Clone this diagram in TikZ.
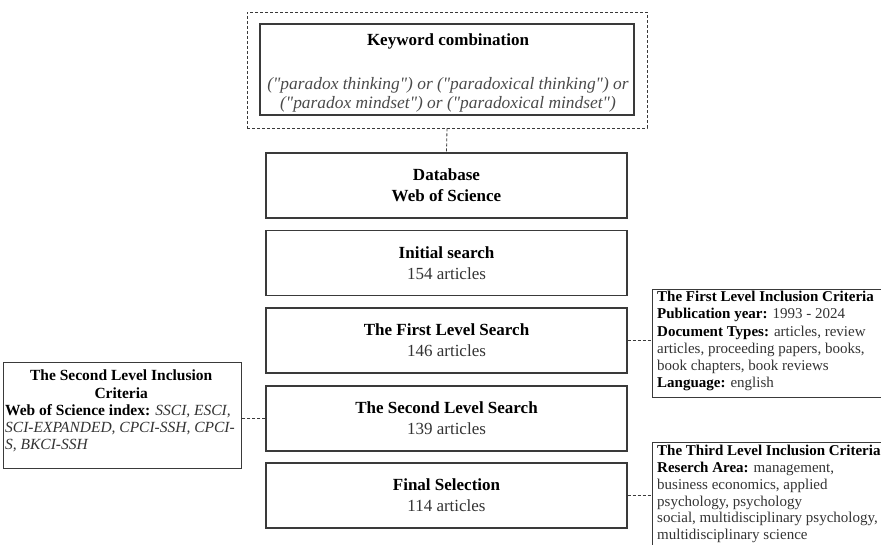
\documentclass[tikz,border=0pt]{standalone}
\usepackage{fontspec}
\setmainfont{Liberation Serif}
\definecolor{boxline}{HTML}{3A3A3A}
\definecolor{plaintxt}{HTML}{333333}
\definecolor{itxt}{HTML}{4A4A4A}
\newcommand{\sdq}{\XeTeXglyph\XeTeXcharglyph"22\relax}
\begin{document}
\begin{tikzpicture}[x=1pt,y=-1pt,
  mainbox/.style={draw=boxline, line width=1.3pt, minimum width=361pt, minimum height=65pt,
    align=center, inner sep=0pt, font=\fontsize{17}{21}\selectfont},
  framebox/.style={draw=boxline, line width=1.1pt, inner sep=0pt, anchor=north west},
  crittext/.style={anchor=north west, inner sep=0pt, align=left, text=plaintxt,
    font=\fontsize{15}{17.2}\selectfont},
  dashedbox/.style={draw=boxline, line width=0.8pt, dash pattern=on 3pt off 2pt, inner sep=0pt},
  link/.style={draw=boxline, line width=0.8pt, dash pattern=on 3pt off 2pt}
]
\useasboundingbox (0,0) rectangle (881,545);

% keyword block
\node[dashedbox, minimum width=400pt, minimum height=116pt] (outer) at (447,70) {};
\node[draw=boxline, line width=1.3pt, minimum width=374pt, minimum height=91pt, inner sep=0pt] (kw) at (447,69.5) {};
\node[align=center, inner sep=0pt, font=\fontsize{17}{19}\selectfont] (kwt) at (448,73)
  {\textbf{Keyword combination}\\[25pt]
   \textcolor{itxt}{\fontsize{17.4}{19}\selectfont\itshape (\sdq paradox thinking\sdq) or (\sdq paradoxical thinking\sdq) or}\\
   \textcolor{itxt}{\fontsize{17.4}{19}\selectfont\itshape (\sdq paradox mindset\sdq) or (\sdq paradoxical mindset\sdq)}};

% main flow
\node[mainbox] (db) at (446.5,185.5) {\textbf{Database}\\\textbf{Web of Science}};
\node[mainbox] (init) at (446.5,263) {\textbf{Initial search}\\\textcolor{plaintxt}{154 articles}};
\node[mainbox] (first) at (446.5,340.5) {\textbf{The First Level Search}\\\textcolor{plaintxt}{146 articles}};
\node[mainbox] (second) at (446.5,418.5) {\textbf{The Second Level Search}\\\textcolor{plaintxt}{139 articles}};
\node[mainbox] (final) at (446.5,495.5) {\textbf{Final Selection}\\\textcolor{plaintxt}{114 articles}};

% criteria boxes
\node[framebox, minimum width=236pt, minimum height=108pt] (c1) at (652,289) {};
\node[crittext] (c1t) at (657,291)
  {\textcolor{black}{\textbf{The First Level Inclusion Criteria}}\\
   \textcolor{black}{\textbf{Publication year:}} 1993 - 2024\\
   \textcolor{black}{\textbf{Document Types:}} articles, review\\
   articles, proceeding papers, books,\\
   book chapters, book reviews\\
   \textcolor{black}{\textbf{Language:}} english};

\node[framebox, minimum width=238pt, minimum height=106pt] (c2) at (3,362) {};
\node[crittext, font=\fontsize{15.5}{17.2}\selectfont] (c2t) at (5,370)
  {\makebox[232pt][c]{\textcolor{black}{\textbf{The Second Level Inclusion}}}\\
   \makebox[232pt][c]{\textcolor{black}{\textbf{Criteria}}}\\
   \textcolor{black}{\textbf{Web of Science index:}} \textit{SSCI, ESCI,}\\
   \textit{SCI-EXPANDED, CPCI-SSH, CPCI-}\\
   \textit{S, BKCI-SSH}};

\node[framebox, minimum width=236pt, minimum height=115pt] (c3) at (652,442) {};
\node[crittext, font=\fontsize{15}{16.8}\selectfont] (c3t) at (657,445)
  {\textcolor{black}{\textbf{The Third Level Inclusion Criteria}}\\
   \textcolor{black}{\textbf{Reserch Area:}} management,\\
   business economics, applied\\
   psychology, psychology\\
   social, multidisciplinary psychology,\\
   multidisciplinary science};

% connectors
\draw[link] (outer.south) -- (db.north);
\draw[link] (first.east) -- (first.east -| c1.west);
\draw[link] (second.west) -- (second.west -| c2.east);
\draw[link] (final.east) -- (final.east -| c3.west);
\end{tikzpicture}
\end{document}
